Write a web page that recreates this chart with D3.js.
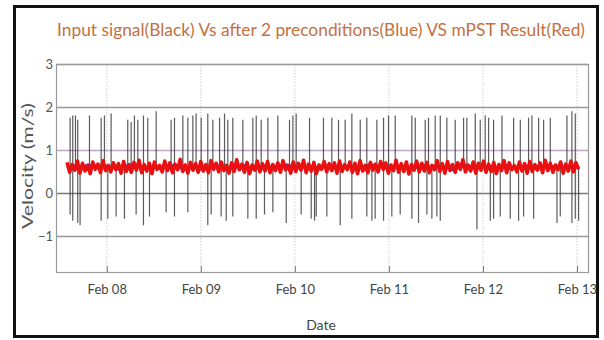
<!DOCTYPE html>
<html>
<head>
<meta charset="utf-8">
<script src="https://cdn.jsdelivr.net/npm/d3@7"></script>
<style>
  html, body { margin: 0; padding: 0; background: #fff; }
  svg { display: block; }
  text { font-family: Lato, "Open Sans", sans-serif; }
</style>
</head>
<body>
<svg id="chart" width="604" height="340"></svg>
<script>
// ---- data -------------------------------------------------------------
// Times are in days of February (7.5 = Feb 07 12:00 UTC).
const xDomainDays = [7.46, 13.117];
const yDomain = [-1.84, 3];
const yTicks = [-1, 0, 1, 2, 3];
const xTickDays = [8, 9, 10, 11, 12, 13];
const seriesStart = 7.578;
const seriesEnd = 13.017;

// Input signal: level between bursts, and the bursts (time, peak, trough)
const inputLevel = 0.6;
const spikeDay = [
  7.610, 7.638, 7.667, 7.691, 7.716, 7.816, 7.940, 7.975, 8.011, 8.046,
  8.099, 8.188, 8.223, 8.259, 8.294, 8.312, 8.330, 8.390, 8.436, 8.454,
  8.525, 8.631, 8.684, 8.720, 8.809, 8.862, 8.915, 8.950, 9.004, 9.074,
  9.110, 9.128, 9.199, 9.216, 9.252, 9.270, 9.287, 9.340, 9.447, 9.500,
  9.553, 9.589, 9.642, 9.677, 9.713, 9.766, 9.819, 9.908, 9.943, 9.979,
  10.014, 10.067, 10.156, 10.174, 10.209, 10.227, 10.304, 10.340, 10.393, 10.464,
  10.482, 10.535, 10.606, 10.695, 10.765, 10.819, 10.854, 10.872, 10.943, 10.996,
  11.031, 11.067, 11.120, 11.244, 11.280, 11.315, 11.386, 11.404, 11.421, 11.457,
  11.492, 11.510, 11.546, 11.616, 11.705, 11.794, 11.829, 11.918, 11.936, 11.971,
  12.024, 12.060, 12.078, 12.113, 12.184, 12.202, 12.290, 12.326, 12.379, 12.397,
  12.432, 12.485, 12.521, 12.539, 12.592, 12.645, 12.716, 12.787, 12.822, 12.893,
  12.946, 12.982, 13.017
];
const spikeHigh = [
  1.75, 1.80, 1.80, 1.70, null, 1.80, 1.75, 1.80, null, 1.85,
  null, null, 1.70, 1.65, 1.80, null, 1.70, 1.80, 1.75, null,
  1.90, null, 1.70, 1.75, 1.80, 1.75, 1.80, 1.85, 1.75, 1.85,
  null, 1.70, 1.75, null, 1.85, null, 1.70, 1.75, 1.70, null,
  1.75, 1.80, 1.70, null, 1.75, null, 1.80, null, 1.70, 1.80,
  1.85, null, 1.75, null, null, null, 1.75, null, 1.75, 1.70,
  null, 1.70, 1.85, 1.70, 1.75, null, null, 1.70, 1.75, 1.80,
  null, 1.80, null, 1.80, 1.75, null, 1.70, null, 1.75, null,
  1.80, null, 1.80, 1.75, 1.70, 1.75, 1.75, 1.85, null, 1.70,
  1.80, 1.75, null, 1.70, null, 1.80, null, 1.75, null, 1.70,
  null, 1.75, 1.80, null, 1.75, 1.70, 1.75, null, null, 1.80,
  1.90, 1.85, null
];
const spikeLow = [
  -0.50, -0.65, null, -0.70, -0.75, null, -0.65, null, -0.60, null,
  -0.55, -0.60, null, null, null, -0.50, null, -0.75, null, -0.55,
  null, -0.45, null, -0.55, null, -0.45, null, null, null, -0.75,
  -0.50, null, null, -0.55, null, -0.65, null, -0.55, null, -0.60,
  null, -0.60, null, -0.50, null, -0.45, null, -0.70, null, null,
  null, -0.50, null, -0.60, -0.65, -0.55, null, -0.55, null, null,
  -0.75, null, -0.60, null, -0.55, -0.65, -0.60, null, -0.65, null,
  -0.55, null, -0.50, -0.60, null, -0.70, null, -0.50, null, -0.60,
  null, -0.55, -0.65, null, null, null, null, null, -0.85, null,
  null, null, -0.65, -0.60, -0.55, null, -0.60, null, -0.65, null,
  -0.55, null, null, -0.60, null, null, null, -0.70, -0.55, null,
  -0.70, -0.60, -0.65
];

// After 2 preconditions (blue)
const preconditioned = [
  0.62, 0.55, 0.66, 0.58, 0.63, 0.54, 0.67, 0.59, 0.61, 0.56,
  0.65, 0.57, 0.62, 0.53, 0.66, 0.60, 0.58, 0.64, 0.55, 0.63,
  0.57, 0.66, 0.59, 0.61, 0.54, 0.65, 0.58, 0.62, 0.56, 0.67,
  0.60, 0.57, 0.63, 0.55, 0.64, 0.59, 0.61, 0.53, 0.66, 0.58,
  0.62, 0.56, 0.65, 0.57, 0.63, 0.55, 0.64, 0.60, 0.58, 0.62
];

// mPST result (red)
const mpstResult = [
  0.71,0.48,0.66,0.53,0.74,0.46,0.69,0.51,0.63,0.45,0.72,0.55,0.67,0.47,0.75,0.52,0.64,0.49,0.70,0.54,
  0.68,0.46,0.73,0.50,0.65,0.48,0.71,0.53,0.76,0.47,0.66,0.51,0.69,0.45,0.72,0.55,0.64,0.49,0.74,0.52,
  0.70,0.47,0.67,0.54,0.78,0.50,0.65,0.46,0.71,0.53,0.68,0.48,0.73,0.51,0.66,0.47,0.75,0.55,0.69,0.49,
  0.72,0.52,0.64,0.46,0.70,0.50,0.77,0.54,0.67,0.48,0.71,0.45,0.65,0.53,0.74,0.49,0.68,0.51,0.73,0.47,
  0.66,0.52,0.70,0.48,0.75,0.54,0.64,0.46,0.72,0.50,0.69,0.53,0.76,0.47,0.67,0.51,0.71,0.45,0.65,0.55,
  0.73,0.49,0.68,0.52,0.70,0.46,0.74,0.50,0.66,0.54,0.72,0.48,0.69,0.45,0.75,0.51,0.64,0.47,0.71,0.53,
  0.67,0.49,0.73,0.55,0.70,0.46,0.65,0.52,0.76,0.48,0.68,0.50,0.72,0.44,0.66,0.53,0.74,0.49,0.69,0.51,
  0.71,0.47,0.64,0.54,0.75,0.50,0.68,0.46,0.73,0.52,0.66,0.48,0.70,0.55,0.77,0.49,0.65,0.51,0.72,0.46,
  0.69,0.53,0.74,0.48,0.67,0.50,0.71,0.45,0.66,0.52,0.75,0.47,0.70,0.54,0.64,0.49,0.72,0.51,0.68,0.46,
  0.73,0.50,0.66,0.53,0.70,0.47,0.76,0.52,0.69,0.48,0.65,0.54,0.72,0.46,0.67,0.51,0.74,0.49,0.70,0.55
];

const titleText = "Input signal(Black) Vs after 2 preconditions(Blue) VS mPST Result(Red)";
const xLabel = "Date";
const yLabel = "Velocity (m/s)";

// ---- helpers ----------------------------------------------------------
const dayMs = 864e5;
const feb0 = Date.UTC(2021, 1, 0);
const toDate = d => new Date(feb0 + d * dayMs);

// evenly spaced samples between start and end
function sampled(values) {
  const step = (seriesEnd - seriesStart) / (values.length - 1);
  return values.map((v, i) => ({ t: toDate(seriesStart + i * step), v }));
}

// ---- layout -----------------------------------------------------------
const plot = { left: 56, right: 588, top: 64, bottom: 272 };
const svg = d3.select("#chart");

const x = d3.scaleUtc().domain(xDomainDays.map(toDate)).range([plot.left, plot.right]);
const y = d3.scaleLinear().domain(yDomain).range([plot.bottom, plot.top]);

// outer frame
svg.append("rect")
  .attr("x", 14.5).attr("y", 6.5).attr("width", 583).attr("height", 330)
  .attr("fill", "#fff").attr("stroke", "#111").attr("stroke-width", 3);

// title
svg.append("text")
  .attr("x", 57).attr("y", 36)
  .attr("textLength", 528).attr("lengthAdjust", "spacingAndGlyphs")
  .attr("font-size", 18).attr("fill", "#c4703f")
  .text(titleText);

// vertical grid at each day
svg.append("g")
  .selectAll("line").data(xTickDays).join("line")
  .attr("x1", d => x(toDate(d))).attr("x2", d => x(toDate(d)))
  .attr("y1", plot.top).attr("y2", plot.bottom)
  .attr("stroke", "#cfcfcf").attr("stroke-width", 1)
  .attr("stroke-dasharray", "1.5,1.5");

// horizontal grid
svg.append("g")
  .selectAll("line").data(yTicks).join("line")
  .attr("x1", plot.left).attr("x2", plot.right)
  .attr("y1", d => Math.round(y(d)) + 0.5).attr("y2", d => Math.round(y(d)) + 0.5)
  .attr("stroke", d => d === 1 ? "#b9a9c6" : (d === 0 ? "#7a7a7a" : "#9a9a9a"))
  .attr("stroke-width", 1.3);

// plot box
svg.append("rect")
  .attr("x", plot.left + 0.5).attr("y", plot.top + 0.5)
  .attr("width", plot.right - plot.left).attr("height", plot.bottom - plot.top)
  .attr("fill", "none").attr("stroke", "#9a9a9a").attr("stroke-width", 1.2);

// x axis ticks + labels
const xAxis = d3.axisBottom(x)
  .tickValues(xTickDays.map(toDate))
  .tickFormat(d3.utcFormat("%b %d"))
  .tickSizeInner(-6).tickSizeOuter(0).tickPadding(13);
const gx = svg.append("g").attr("transform", `translate(0,${plot.bottom})`).call(xAxis);
gx.select(".domain").remove();
gx.selectAll(".tick line").attr("stroke", "#777");
gx.selectAll(".tick text").attr("font-size", 13).attr("fill", "#444")
  .attr("font-family", "Lato, sans-serif");

// y axis labels
const yAxis = d3.axisLeft(y).tickValues(yTicks).tickFormat(d3.format("d"))
  .tickSize(0).tickPadding(4);
const gy = svg.append("g").attr("transform", `translate(${plot.left},0)`).call(yAxis);
gy.select(".domain").remove();
gy.selectAll(".tick text").attr("font-size", 13).attr("fill", "#555")
  .attr("font-family", "Lato, sans-serif").attr("x", -3);

// axis titles
svg.append("text")
  .attr("x", 321).attr("y", 330).attr("text-anchor", "middle")
  .attr("font-size", 14).attr("fill", "#444").text(xLabel);
svg.append("text")
  .attr("transform", "translate(33,166) rotate(-90)")
  .attr("text-anchor", "middle")
  .attr("textLength", 126).attr("lengthAdjust", "spacingAndGlyphs")
  .attr("font-size", 15).attr("fill", "#555").text(yLabel);

// ---- series -----------------------------------------------------------
svg.append("clipPath").attr("id", "plotClip")
  .append("rect").attr("x", plot.left).attr("y", plot.top)
  .attr("width", plot.right - plot.left).attr("height", plot.bottom - plot.top);
const series = svg.append("g").attr("clip-path", "url(#plotClip)");

// input signal: flat level with bursts
const inputPts = [{ t: toDate(seriesStart), v: inputLevel }];
spikeDay.forEach((d, i) => {
  const t = toDate(d);
  inputPts.push({ t, v: inputLevel });
  inputPts.push({ t, v: spikeHigh[i] == null ? inputLevel : spikeHigh[i] });
  inputPts.push({ t, v: spikeLow[i] == null ? inputLevel : spikeLow[i] });
  inputPts.push({ t, v: inputLevel });
});
inputPts.push({ t: toDate(seriesEnd), v: inputLevel });

const line = d3.line().x(d => x(d.t)).y(d => y(d.v));

series.append("path")
  .attr("d", line(inputPts))
  .attr("fill", "none").attr("stroke", "#333").attr("stroke-width", 1.2)
  .attr("stroke-opacity", 0.8);

series.append("path")
  .attr("d", line(sampled(preconditioned)))
  .attr("fill", "none").attr("stroke", "#4040c8").attr("stroke-width", 2.5);

series.append("path")
  .attr("d", line(sampled(mpstResult)))
  .attr("fill", "none").attr("stroke", "#e81010").attr("stroke-width", 3.6)
  .attr("stroke-linejoin", "round");
</script>
</body>
</html>
